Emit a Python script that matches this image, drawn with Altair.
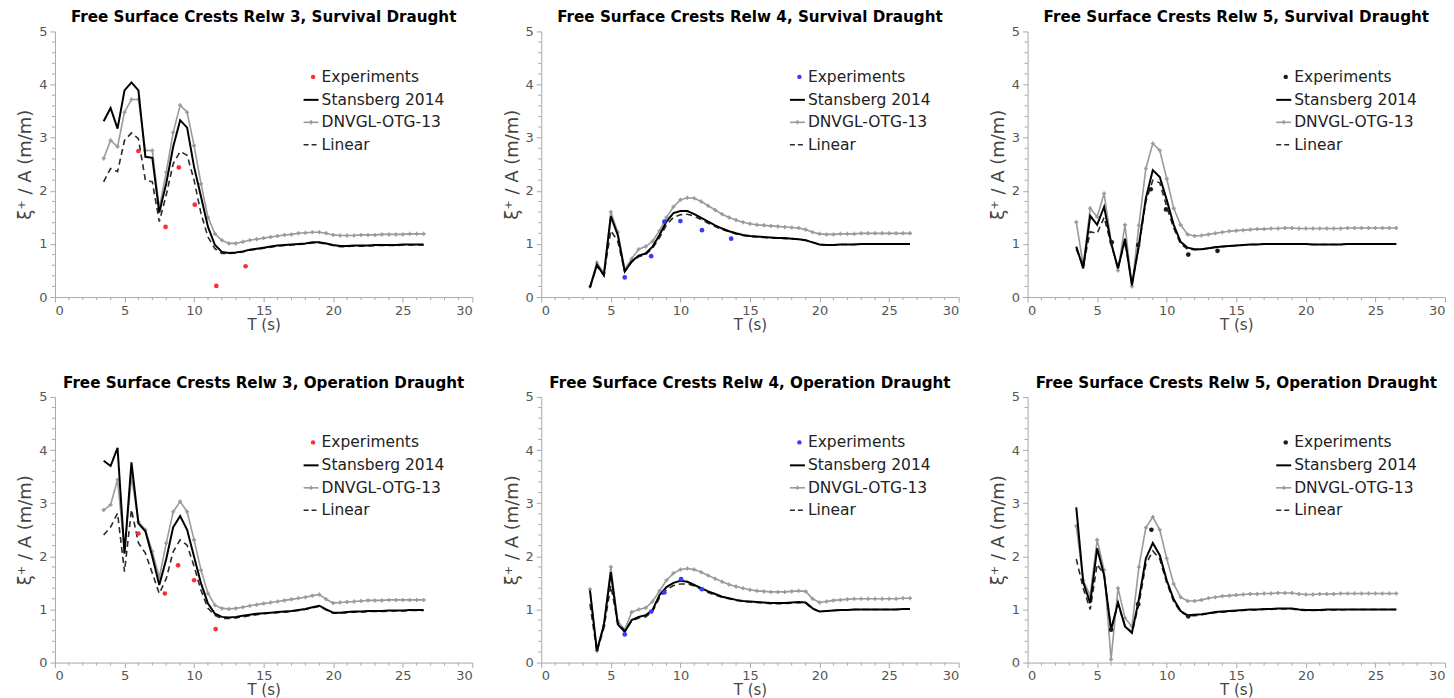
import altair as alt
import pandas as pd

FONT = "DejaVu Sans"

# wave period grid (s)
T = [3.5, 4.0, 4.5, 5.0, 5.5, 6.0, 6.5, 7.0, 7.5, 8.0, 8.5, 9.0, 9.5, 10.0, 10.5, 11.0,
     11.5, 12.0, 12.5, 13.0, 13.5, 14.0, 14.5, 15.0, 15.5, 16.0, 16.5, 17.0, 17.5, 18.0,
     18.5, 19.0, 19.5, 20.0, 20.5, 21.0, 21.5, 22.0, 22.5, 23.0, 23.5, 24.0, 24.5, 25.0,
     25.5, 26.0, 26.5]

X_TICKS = [0, 5, 10, 15, 20, 25, 30]
Y_TICKS = [0, 1, 2, 3, 4, 5]
X_MINOR = [1, 2, 3, 4, 6, 7, 8, 9, 11, 12, 13, 14, 16, 17, 18, 19, 21, 22, 23, 24, 26, 27, 28, 29]
Y_MINOR = [0.2, 0.4, 0.6, 0.8, 1.2, 1.4, 1.6, 1.8, 2.2, 2.4, 2.6, 2.8, 3.2, 3.4, 3.6, 3.8,
           4.2, 4.4, 4.6, 4.8]

LEGEND_LABELS = ["Experiments", "Stansberg 2014", "DNVGL-OTG-13", "Linear"]

# ---- Relw 3, Survival draught
s1_stansberg = [3.31, 3.56, 3.17, 3.89, 4.04, 3.89, 2.64, 2.62, 1.59, 2.14, 2.83, 3.33, 3.19, 2.45, 1.89, 1.32,
                0.98, 0.85, 0.83, 0.84, 0.86, 0.89, 0.91, 0.93, 0.95, 0.97, 0.98, 0.99, 1.0, 1.01,
                1.03, 1.03, 1.01, 0.98, 0.96, 0.96, 0.97, 0.97, 0.97, 0.98, 0.98, 0.98, 0.98, 0.99,
                0.99, 0.99, 0.99]
s1_dnvgl = [2.61, 2.95, 2.83, 3.48, 3.72, 3.72, 2.76, 2.76, 1.67, 2.35, 3.1, 3.61, 3.48, 2.85, 2.13, 1.5,
            1.19, 1.07, 1.01, 1.01, 1.04, 1.07, 1.09, 1.11, 1.13, 1.15, 1.17, 1.18, 1.2, 1.21,
            1.22, 1.22, 1.2, 1.17, 1.16, 1.16, 1.16, 1.17, 1.17, 1.17, 1.18, 1.18, 1.18, 1.18,
            1.19, 1.19, 1.19]
s1_linear = [2.17, 2.42, 2.36, 2.95, 3.09, 2.98, 2.2, 2.17, 1.42, 1.92, 2.51, 2.74, 2.67, 2.2, 1.57, 1.13,
             0.91, 0.82, 0.82, 0.83, 0.85, 0.88, 0.9, 0.92, 0.94, 0.96, 0.97, 0.98, 0.99, 1.0,
             1.02, 1.02, 1.0, 0.97, 0.95, 0.95, 0.96, 0.96, 0.96, 0.97, 0.97, 0.97, 0.97, 0.98,
             0.98, 0.98, 0.98]
s1_exp_T = [6.0, 7.95, 8.9, 10.05, 11.6, 13.7]
s1_exp_v = [2.75, 1.32, 2.44, 1.74, 0.21, 0.58]

# ---- Relw 4, Survival draught
s2_stansberg = [0.18, 0.61, 0.41, 1.52, 1.17, 0.48, 0.67, 0.78, 0.82, 0.95, 1.17, 1.42, 1.58, 1.62, 1.62, 1.56,
                1.49, 1.42, 1.35, 1.29, 1.24, 1.2, 1.17, 1.15, 1.14, 1.13, 1.12, 1.11, 1.11, 1.1,
                1.09, 1.07, 1.03, 0.99, 0.98, 0.98, 0.99, 0.99, 0.99, 1.0, 1.0, 1.0, 1.0, 1.0,
                1.0, 1.0, 1.0]
s2_dnvgl = [0.2, 0.65, 0.45, 1.6, 1.22, 0.52, 0.72, 0.9, 0.95, 1.05, 1.25, 1.5, 1.7, 1.83, 1.87, 1.86,
            1.8, 1.72, 1.64, 1.56, 1.5, 1.45, 1.41, 1.38, 1.36, 1.35, 1.34, 1.33, 1.32, 1.31,
            1.3, 1.27, 1.22, 1.19, 1.18, 1.18, 1.19, 1.19, 1.19, 1.2, 1.2, 1.2, 1.2, 1.2,
            1.2, 1.2, 1.2]
s2_linear = [0.18, 0.58, 0.42, 1.25, 1.05, 0.48, 0.66, 0.76, 0.8, 0.92, 1.12, 1.36, 1.5, 1.55, 1.56, 1.52,
             1.46, 1.39, 1.33, 1.27, 1.23, 1.19, 1.16, 1.14, 1.13, 1.12, 1.11, 1.11, 1.1, 1.1,
             1.09, 1.07, 1.03, 0.99, 0.98, 0.98, 0.99, 0.99, 0.99, 1.0, 1.0, 1.0, 1.0, 1.0,
             1.0, 1.0, 1.0]
s2_exp_T = [6.0, 7.9, 8.85, 10.0, 11.55, 13.65]
s2_exp_v = [0.37, 0.77, 1.42, 1.43, 1.26, 1.1]

# ---- Relw 5, Survival draught
s3_stansberg = [0.95, 0.54, 1.53, 1.36, 1.7, 1.02, 0.54, 1.1, 0.22, 0.98, 1.86, 2.39, 2.26, 1.83, 1.36, 1.04,
                0.93, 0.9, 0.9, 0.92, 0.94, 0.95, 0.96, 0.97, 0.98, 0.99, 0.99, 1.0, 1.0, 1.0,
                1.0, 1.0, 1.0, 1.0, 0.99, 0.99, 0.99, 0.99, 0.99, 1.0, 1.0, 1.0, 1.0, 1.0,
                1.0, 1.0, 1.0]
s3_dnvgl = [1.41, 0.6, 1.67, 1.51, 1.95, 1.05, 0.5, 1.36, 0.2, 1.35, 2.42, 2.89, 2.76, 2.23, 1.67, 1.36,
            1.18, 1.15, 1.16, 1.18, 1.2, 1.22, 1.24, 1.25, 1.26, 1.27, 1.28, 1.28, 1.29, 1.29,
            1.3, 1.3, 1.29, 1.29, 1.29, 1.29, 1.29, 1.29, 1.29, 1.3, 1.3, 1.3, 1.3, 1.3,
            1.3, 1.3, 1.3]
s3_linear = [0.9, 0.6, 1.23, 1.2, 1.5, 1.0, 0.55, 1.05, 0.25, 0.95, 1.8, 2.2, 2.15, 1.7, 1.3, 1.0,
             0.9, 0.89, 0.9, 0.92, 0.94, 0.95, 0.96, 0.97, 0.98, 0.99, 0.99, 1.0, 1.0, 1.0,
             1.0, 1.0, 1.0, 1.0, 0.99, 0.99, 0.99, 0.99, 0.99, 1.0, 1.0, 1.0, 1.0, 1.0,
             1.0, 1.0, 1.0]
s3_exp_T = [6.05, 7.95, 8.85, 9.95, 11.55, 13.65]
s3_exp_v = [1.03, 0.98, 2.03, 1.65, 0.8, 0.87]

# ---- Relw 3, Operation draught
o1_stansberg = [3.8, 3.7, 4.04, 2.05, 3.77, 2.62, 2.47, 1.99, 1.46, 1.95, 2.55, 2.76, 2.5, 1.99, 1.49, 1.11,
                0.92, 0.86, 0.85, 0.86, 0.88, 0.9, 0.92, 0.93, 0.94, 0.95, 0.96, 0.97, 0.99, 1.01,
                1.04, 1.07, 1.0, 0.94, 0.94, 0.95, 0.96, 0.96, 0.97, 0.97, 0.97, 0.98, 0.98, 0.98,
                0.99, 0.99, 0.99]
o1_dnvgl = [2.87, 2.97, 3.44, 2.1, 3.5, 2.65, 2.5, 2.09, 1.6, 2.25, 2.84, 3.03, 2.84, 2.31, 1.74, 1.3,
            1.08, 1.02, 1.01, 1.02, 1.04, 1.07, 1.09, 1.11, 1.13, 1.15, 1.17, 1.19, 1.21, 1.23,
            1.26, 1.28, 1.19, 1.12, 1.13, 1.14, 1.15, 1.16, 1.17, 1.17, 1.17, 1.18, 1.18, 1.18,
            1.18, 1.18, 1.18]
o1_linear = [2.4, 2.55, 2.81, 1.71, 2.88, 2.25, 2.06, 1.68, 1.3, 1.58, 2.09, 2.31, 2.21, 1.81, 1.36, 1.02,
             0.89, 0.83, 0.83, 0.84, 0.86, 0.88, 0.9, 0.92, 0.93, 0.94, 0.95, 0.96, 0.98, 1.0,
             1.03, 1.06, 0.99, 0.93, 0.93, 0.94, 0.95, 0.95, 0.96, 0.96, 0.96, 0.97, 0.97, 0.97,
             0.98, 0.98, 0.98]
o1_exp_T = [6.0, 7.9, 8.85, 10.0, 11.55]
o1_exp_v = [2.43, 1.3, 1.83, 1.55, 0.63]

# ---- Relw 4, Operation draught
o2_stansberg = [1.36, 0.22, 0.71, 1.7, 0.72, 0.58, 0.8, 0.86, 0.89, 0.99, 1.27, 1.42, 1.5, 1.54, 1.52, 1.46,
                1.4, 1.34, 1.29, 1.24, 1.21, 1.18, 1.16, 1.15, 1.14, 1.13, 1.12, 1.12, 1.12, 1.13,
                1.14, 1.13, 1.02, 0.96, 0.97, 0.98, 0.99, 0.99, 1.0, 1.0, 1.0, 1.0, 1.0, 1.0,
                1.0, 1.01, 1.01]
o2_dnvgl = [1.38, 0.22, 0.7, 1.8, 0.78, 0.62, 0.95, 1.0, 1.03, 1.15, 1.35, 1.55, 1.68, 1.75, 1.77, 1.75,
            1.7, 1.64, 1.58, 1.52, 1.47, 1.43, 1.4, 1.37, 1.35, 1.34, 1.33, 1.33, 1.33, 1.34,
            1.35, 1.34, 1.2, 1.13, 1.15, 1.17, 1.18, 1.19, 1.2, 1.2, 1.2, 1.2, 1.2, 1.2,
            1.2, 1.21, 1.21]
o2_linear = [1.1, 0.2, 0.65, 1.45, 0.75, 0.6, 0.78, 0.84, 0.86, 0.96, 1.22, 1.37, 1.45, 1.48, 1.48, 1.44,
             1.38, 1.32, 1.27, 1.23, 1.2, 1.17, 1.15, 1.14, 1.13, 1.12, 1.11, 1.11, 1.11, 1.12,
             1.13, 1.12, 1.01, 0.96, 0.97, 0.98, 0.99, 0.99, 1.0, 1.0, 1.0, 1.0, 1.0, 1.0,
             1.0, 1.01, 1.01]
o2_exp_T = [6.0, 7.9, 8.85, 10.05, 11.55]
o2_exp_v = [0.53, 0.96, 1.32, 1.57, 1.38]

# ---- Relw 5, Operation draught
o3_stansberg = [2.92, 1.51, 1.12, 2.15, 1.64, 0.62, 1.13, 0.68, 0.56, 1.19, 1.96, 2.25, 2.02, 1.55, 1.19, 0.97,
                0.89, 0.9, 0.91, 0.93, 0.95, 0.96, 0.97, 0.98, 0.99, 1.0, 1.0, 1.01, 1.01, 1.02,
                1.02, 1.02, 1.0, 0.99, 0.99, 0.99, 1.0, 1.0, 1.0, 1.0, 1.0, 1.0, 1.0, 1.0,
                1.0, 1.0, 1.0]
o3_dnvgl = [2.57, 1.55, 1.26, 2.31, 1.74, 0.06, 1.4, 0.84, 0.68, 1.8, 2.54, 2.74, 2.5, 1.96, 1.48, 1.23,
            1.16, 1.16, 1.18, 1.21, 1.23, 1.25, 1.26, 1.27, 1.28, 1.29, 1.29, 1.3, 1.3, 1.31,
            1.31, 1.31, 1.29, 1.28, 1.28, 1.29, 1.29, 1.29, 1.3, 1.3, 1.3, 1.3, 1.3, 1.3,
            1.3, 1.3, 1.3]
o3_linear = [1.95, 1.4, 1.0, 1.85, 1.65, 0.62, 1.1, 0.7, 0.56, 1.1, 1.85, 2.1, 1.95, 1.5, 1.15, 0.95,
             0.88, 0.88, 0.9, 0.92, 0.94, 0.95, 0.96, 0.97, 0.98, 0.99, 0.99, 1.0, 1.0, 1.01,
             1.01, 1.01, 0.99, 0.98, 0.98, 0.98, 0.99, 0.99, 0.99, 1.0, 1.0, 1.0, 1.0, 1.0,
             1.0, 1.0, 1.0]
o3_exp_T = [6.0, 7.95, 8.9, 11.55]
o3_exp_v = [0.62, 1.1, 2.5, 0.87]

for arr in [s1_stansberg, s1_dnvgl, s1_linear, s2_stansberg, s2_dnvgl, s2_linear,
            s3_stansberg, s3_dnvgl, s3_linear, o1_stansberg, o1_dnvgl, o1_linear,
            o2_stansberg, o2_dnvgl, o2_linear, o3_stansberg, o3_dnvgl, o3_linear]:
    if len(arr) != len(T):
        raise ValueError("length mismatch %d" % len(arr))

W, H = 418, 266
GRAY = "#9a9a9a"
DASH = "#2a2a2a"
AXC = "#a8a8a8"


def panel(title, exp_color, s, d, l, et, ev):
    n = len(T)
    df = pd.DataFrame({
        "T": T * 3,
        "v": s + d + l,
        "series": [LEGEND_LABELS[1]] * n + [LEGEND_LABELS[2]] * n + [LEGEND_LABELS[3]] * n,
    })
    ex = pd.DataFrame({"T": et, "v": ev})
    xs = alt.Scale(domain=[0, 30], nice=False, zero=False)
    ys = alt.Scale(domain=[0, 5], nice=False)
    x_main = alt.X("T:Q", scale=xs,
                   axis=alt.Axis(values=X_TICKS, title="T (s)", titlePadding=0, labelPadding=2,
                                 titleFontSize=15))
    y_main = alt.Y("v:Q", scale=ys,
                   axis=alt.Axis(values=Y_TICKS, title="ξ⁺ / A (m/m)", titlePadding=4, labelPadding=3,
                                 titleFontSize=18))
    base = alt.Chart(df)

    minor_x = alt.Chart(pd.DataFrame({"T": X_MINOR})).mark_rule(color=AXC, strokeWidth=1).encode(
        x="T:Q", y=alt.value(H), y2=alt.value(H + 3))
    minor_y = alt.Chart(pd.DataFrame({"v": Y_MINOR})).mark_rule(color=AXC, strokeWidth=1).encode(
        y="v:Q", x=alt.value(0), x2=alt.value(-3))

    dn_line = base.transform_filter(alt.datum.series == LEGEND_LABELS[2]).mark_line(
        color=GRAY, strokeWidth=1.6).encode(x=x_main, y=y_main)
    dn_pts = base.transform_filter(alt.datum.series == LEGEND_LABELS[2]).mark_point(
        shape="cross", size=16, filled=True, color=GRAY, opacity=1).encode(x="T:Q", y="v:Q")
    lin = base.transform_filter(alt.datum.series == LEGEND_LABELS[3]).mark_line(
        color=DASH, strokeWidth=1.6, strokeDash=[6, 4]).encode(x="T:Q", y="v:Q")
    sta = base.transform_filter(alt.datum.series == LEGEND_LABELS[1]).mark_line(
        color="#000000", strokeWidth=2).encode(x="T:Q", y="v:Q")
    exp = alt.Chart(ex).mark_circle(size=22, color=exp_color, opacity=1).encode(x="T:Q", y="v:Q")

    # legend drawn inside the plot
    lx0, lx1, ltx = 249, 264, 267
    rows = [45.5, 68.5, 91, 113.5]
    one = alt.Data(values=[{"k": 0}])
    leg = [
        alt.Chart(one).mark_circle(size=20, color=exp_color, opacity=1).encode(
            x=alt.value((lx0 + lx1) / 2 + 2), y=alt.value(rows[0])),
        alt.Chart(one).mark_rule(color="#000000", strokeWidth=2).encode(
            x=alt.value(lx0), x2=alt.value(lx1), y=alt.value(rows[1])),
        alt.Chart(one).mark_rule(color=GRAY, strokeWidth=1.6).encode(
            x=alt.value(lx0), x2=alt.value(lx1), y=alt.value(rows[2])),
        alt.Chart(one).mark_point(shape="cross", size=16, filled=True, color=GRAY, opacity=1).encode(
            x=alt.value((lx0 + lx1) / 2), y=alt.value(rows[2])),
        alt.Chart(one).mark_rule(color=DASH, strokeWidth=1.6, strokeDash=[5, 3]).encode(
            x=alt.value(lx0), x2=alt.value(lx1), y=alt.value(rows[3])),
    ]
    for lab, ry in zip(LEGEND_LABELS, rows):
        leg.append(alt.Chart(alt.Data(values=[{"label": lab}])).mark_text(
            align="left", baseline="middle", fontSize=15.5, font=FONT, color="#222222").encode(
            x=alt.value(ltx), y=alt.value(ry), text="label:N"))

    return alt.layer(dn_line, minor_x, minor_y, dn_pts, lin, sta, exp, *leg).properties(
        width=W, height=H,
        title=alt.TitleParams(title, fontSize=15.2, fontWeight="bold", font=FONT, color="#000000",
                              anchor="middle", frame="group", offset=0))


RED, BLUE, BLK = "#ff2e2e", "#3a3aff", "#1a1a1a"

row1 = alt.hconcat(
    panel("Free Surface Crests Relw 3, Survival Draught", RED, s1_stansberg, s1_dnvgl, s1_linear, s1_exp_T, s1_exp_v),
    panel("Free Surface Crests Relw 4, Survival Draught", BLUE, s2_stansberg, s2_dnvgl, s2_linear, s2_exp_T, s2_exp_v),
    panel("Free Surface Crests Relw 5, Survival Draught", BLK, s3_stansberg, s3_dnvgl, s3_linear, s3_exp_T, s3_exp_v),
    spacing=29)
row2 = alt.hconcat(
    panel("Free Surface Crests Relw 3, Operation Draught", RED, o1_stansberg, o1_dnvgl, o1_linear, o1_exp_T, o1_exp_v),
    panel("Free Surface Crests Relw 4, Operation Draught", BLUE, o2_stansberg, o2_dnvgl, o2_linear, o2_exp_T, o2_exp_v),
    panel("Free Surface Crests Relw 5, Operation Draught", BLK, o3_stansberg, o3_dnvgl, o3_linear, o3_exp_T, o3_exp_v),
    spacing=29)

chart = alt.vconcat(row1, row2, spacing=43).properties(
    padding={"left": 8, "top": 1, "right": 0, "bottom": 0}
).configure_view(strokeWidth=0).configure_axis(
    labelFont=FONT, titleFont=FONT, labelFontSize=13, titleFontSize=16, titleFontWeight="normal",
    labelColor="#555555", titleColor="#444444", domainColor=AXC, tickColor=AXC, tickSize=5,
    grid=False)

chart.save("out.html", embed_options={"renderer": "svg", "actions": False})
